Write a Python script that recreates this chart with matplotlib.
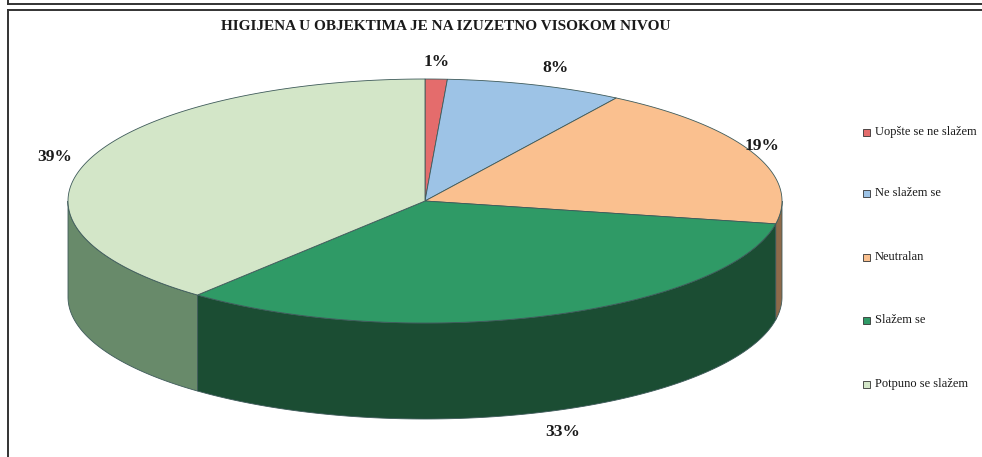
#!/usr/bin/env python3

import numpy as np
import matplotlib
matplotlib.use("Agg")
import matplotlib.pyplot as plt
from matplotlib.patches import Polygon, Rectangle

TITLE = "HIGIJENA U OBJEKTIMA JE NA IZUZETNO VISOKOM NIVOU"
CATEGORIES = ["Uopšte se ne slažem", "Ne slažem se", "Neutralan", "Slažem se", "Potpuno se slažem"]
SHARES = [1, 8, 19, 33, 39]
TOP_COLORS = ["#E46C6C", "#9DC3E6", "#FAC08F", "#2F9A66", "#D3E6C8"]
SIDE_COLORS = ["#8E3A3A", "#5A7A96", "#8E6A4A", "#1B4D33", "#688A6A"]

# pie geometry in pixel coords (y grows downwards)
CX, CY = 425, 201
RA, RB = 357, 122
DEPTH = 96
EDGE = "#3E5A5A"


def ellipse_pts(t0, t1, n=200):
    t = np.radians(np.linspace(t0, t1, n))
    return CX + RA * np.sin(t), CY - RB * np.cos(t)


fig = plt.figure(figsize=(9.82, 4.57), dpi=100)
ax = fig.add_axes([0, 0, 1, 1])
ax.set_xlim(0, 982)
ax.set_ylim(457, 0)
ax.axis("off")

# frame lines (bottom of upper box + chart box)
ax.plot([8, 982], [3.5, 3.5], color="#333333", lw=1.4)
ax.plot([8, 8], [0, 3.5], color="#333333", lw=1.4)
ax.plot([8, 982], [9.5, 9.5], color="#333333", lw=1.4)
ax.plot([8, 8], [9.5, 457], color="#333333", lw=1.4)

total = float(sum(SHARES))
bounds = np.concatenate([[0], np.cumsum(SHARES) / total * 360.0])

# side walls (front half only: 90..270 deg clockwise from top)
for i in range(len(SHARES)):
    t0 = max(bounds[i], 90)
    t1 = min(bounds[i + 1], 270)
    if t1 <= t0:
        continue
    xs, ys = ellipse_pts(t0, t1)
    pts = np.column_stack([np.concatenate([xs, xs[::-1]]),
                           np.concatenate([ys, ys[::-1] + DEPTH])])
    ax.add_patch(Polygon(pts, closed=True, facecolor=SIDE_COLORS[i],
                         edgecolor=EDGE, lw=0.6, zorder=2))

# top face slices
for i in range(len(SHARES)):
    xs, ys = ellipse_pts(bounds[i], bounds[i + 1])
    pts = np.column_stack([np.concatenate([[CX], xs]), np.concatenate([[CY], ys])])
    ax.add_patch(Polygon(pts, closed=True, facecolor=TOP_COLORS[i],
                         edgecolor=EDGE, lw=0.6, zorder=3))

# percentage labels
label_pos = [(437, 62), (556, 68), (762, 146), (563, 432), (55, 157)]
for share, (lx, ly) in zip(SHARES, label_pos):
    ax.text(lx, ly, f"{share}%", ha="center", va="center", fontsize=12.5,
            fontweight="bold", family="Liberation Serif", color="#1a1a1a")

ax.text(446, 27, TITLE, ha="center", va="center", fontsize=11,
        fontweight="bold", family="Liberation Serif", color="#1a1a1a")

# legend
leg_y = [132, 193, 257, 320, 384]
for name, col, ly in zip(CATEGORIES, TOP_COLORS, leg_y):
    ax.add_patch(Rectangle((863, ly - 3.5), 7, 7, facecolor=col,
                           edgecolor="#333333", lw=0.6, zorder=3))
    ax.text(875, ly, name, ha="left", va="center", fontsize=9,
            family="Liberation Serif", color="#1a1a1a")

fig.savefig("out.png", dpi=100)
